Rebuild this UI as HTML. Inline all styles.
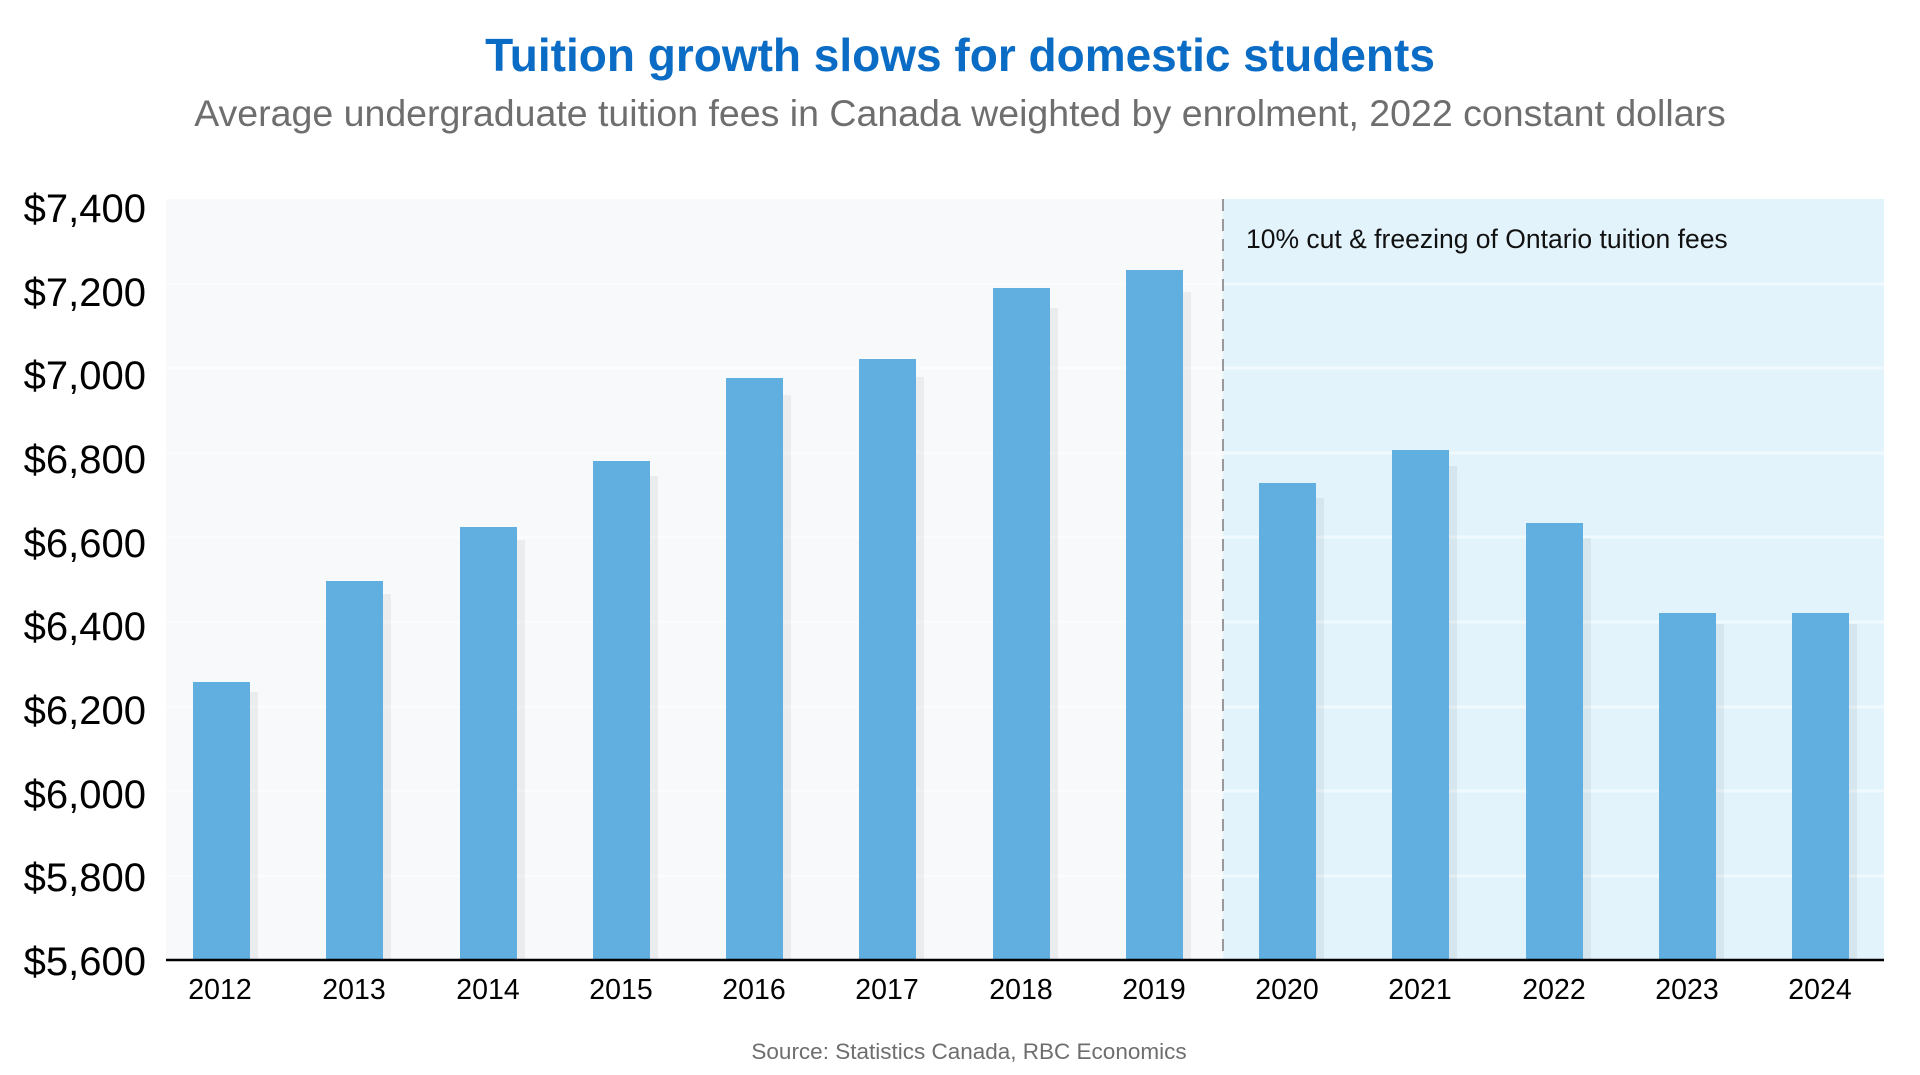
<!DOCTYPE html>
<html><head><meta charset="utf-8"><style>
html,body{margin:0;padding:0;background:#fff;}
svg{display:block;}
text{font-family:"Liberation Sans",sans-serif;}
</style></head><body>
<svg width="1920" height="1075" viewBox="0 0 1920 1075" xmlns="http://www.w3.org/2000/svg">
<text x="960" y="71" text-anchor="middle" font-size="46" font-weight="bold" fill="#0a6cc4">Tuition growth slows for domestic students</text>
<text x="960" y="126" text-anchor="middle" font-size="37.5" fill="#6e6e6e">Average undergraduate tuition fees in Canada weighted by enrolment, 2022 constant dollars</text>
<rect x="166" y="199" width="1057" height="761" fill="#f7f9fb"/>
<rect x="1223" y="199" width="661" height="761" fill="#e2f3fc"/>
<g stroke="#ffffff" stroke-width="3" opacity="0.5">
<line x1="166" x2="1884" y1="284" y2="284"/><line x1="166" x2="1884" y1="368" y2="368"/>
<line x1="166" x2="1884" y1="453" y2="453"/><line x1="166" x2="1884" y1="537" y2="537"/>
<line x1="166" x2="1884" y1="622" y2="622"/><line x1="166" x2="1884" y1="707" y2="707"/>
<line x1="166" x2="1884" y1="791" y2="791"/><line x1="166" x2="1884" y1="876" y2="876"/>
</g>
<line x1="1223" y1="199" x2="1223" y2="960" stroke="#999" stroke-width="2" stroke-dasharray="12,8"/>
<text x="1246" y="248" font-size="26.5" fill="#111">10% cut &amp; freezing of Ontario tuition fees</text>
<g fill="#000" fill-opacity="0.05">
<rect x="201" y="692" width="57" height="268"/><rect x="334" y="594" width="57" height="366"/>
<rect x="468" y="540" width="57" height="420"/><rect x="601" y="476" width="57" height="484"/>
<rect x="734" y="395" width="57" height="565"/><rect x="867" y="377" width="57" height="583"/>
<rect x="1001" y="308" width="57" height="652"/><rect x="1134" y="292" width="57" height="668"/>
<rect x="1267" y="498" width="57" height="462"/><rect x="1400" y="466" width="57" height="494"/>
<rect x="1534" y="538" width="57" height="422"/><rect x="1667" y="624" width="57" height="336"/>
<rect x="1800" y="624" width="57" height="336"/>
</g>
<g fill="#60afe0">
<rect x="193" y="682" width="57" height="278"/><rect x="326" y="581" width="57" height="379"/>
<rect x="460" y="527" width="57" height="433"/><rect x="593" y="461" width="57" height="499"/>
<rect x="726" y="378" width="57" height="582"/><rect x="859" y="359" width="57" height="601"/>
<rect x="993" y="288" width="57" height="672"/><rect x="1126" y="270" width="57" height="690"/>
<rect x="1259" y="483" width="57" height="477"/><rect x="1392" y="450" width="57" height="510"/>
<rect x="1526" y="523" width="57" height="437"/><rect x="1659" y="613" width="57" height="347"/>
<rect x="1792" y="613" width="57" height="347"/>
</g>
<line x1="166" y1="960" x2="1884" y2="960" stroke="#000" stroke-width="2.5"/>
<g font-size="40" fill="#000" text-anchor="end">
<text x="146" y="222">$7,400</text><text x="146" y="306">$7,200</text><text x="146" y="389">$7,000</text>
<text x="146" y="473">$6,800</text><text x="146" y="557">$6,600</text><text x="146" y="640">$6,400</text>
<text x="146" y="724">$6,200</text><text x="146" y="808">$6,000</text><text x="146" y="891">$5,800</text>
<text x="146" y="975">$5,600</text>
</g>
<g font-size="28.5" fill="#000" text-anchor="middle">
<text x="220" y="999">2012</text><text x="354" y="999">2013</text><text x="488" y="999">2014</text>
<text x="621" y="999">2015</text><text x="754" y="999">2016</text><text x="887" y="999">2017</text>
<text x="1021" y="999">2018</text><text x="1154" y="999">2019</text><text x="1287" y="999">2020</text>
<text x="1420" y="999">2021</text><text x="1554" y="999">2022</text><text x="1687" y="999">2023</text>
<text x="1820" y="999">2024</text>
</g>
<text x="969" y="1059" text-anchor="middle" font-size="22.5" fill="#6e6e6e">Source: Statistics Canada, RBC Economics</text>
</svg>
</body></html>
